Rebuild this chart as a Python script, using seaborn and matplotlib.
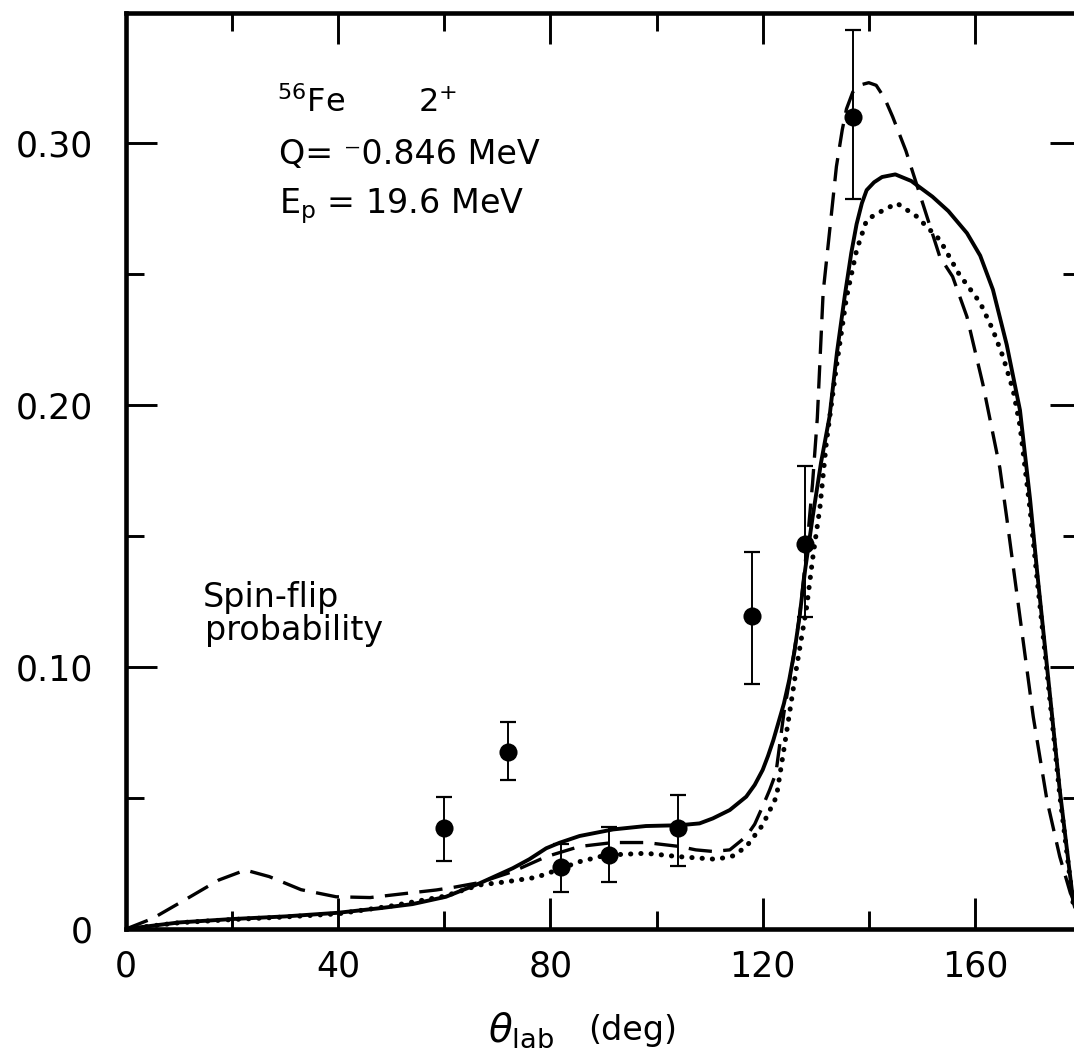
import numpy as np
import pandas as pd
import matplotlib
matplotlib.use("Agg")
import matplotlib.pyplot as plt
import seaborn as sns

# ---------------- data ----------------
solid_theta = [0, 10, 20, 30, 40, 47.7, 54, 60.3, 66.6, 72.9, 76, 79.2, 81.7, 85.5, 91.8,
               98, 104.3, 108.1, 110.6, 113.8, 116.9, 118.5, 120, 121, 122, 123, 124, 125,
               126, 127, 128, 129.4, 131, 132.6, 134, 135.5, 136.7, 137.7, 138.7, 139.6,
               141, 142.5, 145, 148, 152, 155, 158.5, 161, 163.4, 166, 168.5, 170.4,
               171.7, 173.6, 176, 178.5, 180]
solid_val = [0.0, 0.0025, 0.0038, 0.0048, 0.0062, 0.0079, 0.0095, 0.0123, 0.0174, 0.0232,
             0.0266, 0.0308, 0.0329, 0.0355, 0.0380, 0.0393, 0.0396, 0.0403, 0.0422, 0.0454,
             0.0505, 0.0550, 0.0607, 0.0660, 0.0720, 0.0790, 0.0860, 0.0950, 0.1060, 0.1200,
             0.1370, 0.1570, 0.1780, 0.1955, 0.2200, 0.2420, 0.2580, 0.2690, 0.2770, 0.2820,
             0.2850, 0.2870, 0.2880, 0.2855, 0.2795, 0.2740, 0.2656, 0.2570, 0.2440, 0.2230,
             0.1980, 0.1640, 0.1370, 0.1000, 0.0530, 0.0110, 0.0]

dash_theta = [0, 5, 11, 17.5, 22.5, 27, 33, 39.6, 46, 52, 58.5, 62, 66.6, 72.9, 79.2, 85.5,
              91.8, 98, 104.3, 107.4, 110.6, 113.8, 116.9, 118.5, 120, 121.3, 122.5, 124,
              125.5, 127, 128.3, 129.4, 130.3, 131.4, 132.6, 133.9, 135, 135.8, 137, 138.5,
              140, 141.4, 143, 144.5, 147, 150, 153.4, 155.8, 158.5, 161.5, 164.7, 166,
              168.5, 171, 173.6, 176, 178, 180]
dash_val = [0.0, 0.004, 0.011, 0.0187, 0.0225, 0.0200, 0.0150, 0.0123, 0.0120, 0.0134,
            0.0149, 0.0160, 0.0177, 0.0219, 0.0276, 0.0315, 0.0330, 0.0330, 0.0315, 0.0302,
            0.0296, 0.0302, 0.0353, 0.0400, 0.0468, 0.0530, 0.0595, 0.0824, 0.1000, 0.1200,
            0.1450, 0.1700, 0.1950, 0.2430, 0.2660, 0.2910, 0.3050, 0.3130, 0.3195, 0.3222,
            0.3230, 0.3220, 0.3170, 0.3100, 0.2970, 0.2780, 0.2565, 0.2490, 0.2337, 0.2080,
            0.1760, 0.1570, 0.1190, 0.0810, 0.0490, 0.0276, 0.0137, 0.005]

dot_theta = [0, 10, 20, 30, 40, 50, 60, 66.6, 71.6, 77.3, 80.4, 85.5, 90.5, 98, 104.3,
             111.3, 114.4, 116.9, 120, 122.6, 124.5, 126.4, 128.3, 129.4, 130.8, 132, 133.9,
             135.8, 137.7, 139.6, 141.5, 145.3, 149, 153.4, 157, 161, 163.4, 165.3, 167.2,
             168.5, 170.4, 171.7, 173.6, 176, 178.5, 180]
dot_val = [0.0, 0.0024, 0.0036, 0.0046, 0.0058, 0.0088, 0.0125, 0.0168, 0.0180, 0.0197,
           0.0219, 0.0257, 0.0282, 0.0289, 0.0276, 0.0266, 0.0279, 0.0314, 0.0397, 0.0505,
           0.0750, 0.1000, 0.1230, 0.1410, 0.1610, 0.1855, 0.2146, 0.2410, 0.2590, 0.2706,
           0.2730, 0.2770, 0.2720, 0.2630, 0.2500, 0.2390, 0.2286, 0.2184, 0.2057, 0.1920,
           0.1600, 0.1340, 0.0980, 0.0510, 0.0100, 0.0]

exp_theta = [60, 72, 82, 91, 104, 118, 128, 137]
exp_val = [0.0385, 0.0676, 0.0238, 0.0282, 0.0385, 0.1195, 0.1470, 0.3100]
exp_lo = [0.0260, 0.0569, 0.0141, 0.0180, 0.0240, 0.0935, 0.1190, 0.2786]
exp_hi = [0.0505, 0.0790, 0.0324, 0.0390, 0.0512, 0.1440, 0.1767, 0.3430]

xtick_major = [0, 40, 80, 120, 160]
xtick_minor = [20, 60, 100, 140, 180]
ytick_major = [0, 0.10, 0.20, 0.30]
ytick_labels = ["0", "0.10", "0.20", "0.30"]
ytick_minor = [0.05, 0.15, 0.25]

# ---------------- style ----------------
sns.set_style("ticks", {"axes.edgecolor": "black", "text.color": "black",
                        "xtick.color": "black", "ytick.color": "black"})
plt.rcParams["font.family"] = ["DejaVu Sans"]
plt.rcParams["mathtext.fontset"] = "dejavusans"
plt.rcParams["text.color"] = "black"

fig = plt.figure(figsize=(10.74, 10.58), dpi=100)
ax = fig.add_axes([126 / 1074, 129 / 1058, 955 / 1074, 916 / 1058])

df_s = pd.DataFrame({"theta": solid_theta, "val": solid_val})
df_d = pd.DataFrame({"theta": dash_theta, "val": dash_val})
df_o = pd.DataFrame({"theta": dot_theta, "val": dot_val})
df_e = pd.DataFrame({"theta": exp_theta, "val": exp_val})

sns.lineplot(data=df_s, x="theta", y="val", ax=ax, color="black", lw=2.8,
             estimator=None, sort=False)
sns.lineplot(data=df_d, x="theta", y="val", ax=ax, color="black", lw=2.4,
             estimator=None, sort=False, linestyle=(0, (7.0, 3.4)))
sns.lineplot(data=df_o, x="theta", y="val", ax=ax, color="black", lw=3.6,
             estimator=None, sort=False, linestyle=(0, (0.05, 2.0)),
             dash_capstyle="round")

yerr = [np.array(exp_val) - np.array(exp_lo), np.array(exp_hi) - np.array(exp_val)]
ax.errorbar(exp_theta, exp_val, yerr=yerr, fmt="none", ecolor="black",
            elinewidth=1.4, capsize=5.5, capthick=1.6, zorder=4)
sns.scatterplot(data=df_e, x="theta", y="val", ax=ax, color="black", s=170,
                edgecolor="black", linewidth=0, zorder=5)

ax.set_xlim(0, 180)
ax.set_ylim(0, 0.3496)
ax.set_xticks(xtick_major)
ax.set_xticks(xtick_minor, minor=True)
ax.set_xticklabels([str(v) for v in xtick_major])
ax.set_yticks(ytick_major)
ax.set_yticks(ytick_minor, minor=True)
ax.set_yticklabels(ytick_labels)
ax.set_xlabel("")
ax.set_ylabel("")

for s in ax.spines.values():
    s.set_linewidth(3.3)
    s.set_color("black")
    s.set_visible(True)
ax.tick_params(which="both", direction="in", top=True, right=True, width=2.1,
               labelsize=25, colors="black")
ax.tick_params(which="major", length=22)
ax.tick_params(which="minor", length=13)
ax.tick_params(axis="x", which="major", pad=15)
ax.tick_params(axis="y", which="major", pad=24)

# annotations
fig.text(277 / 1074, 1 - 112 / 1058, r"$^{56}$Fe", fontsize=23, va="baseline", ha="left")
fig.text(418 / 1074, 1 - 112 / 1058, r"2$^{+}$", fontsize=23, va="baseline", ha="left")
fig.text(279 / 1074, 1 - 164 / 1058, "Q= \u207b0.846 MeV", fontsize=24, va="baseline", ha="left")
fig.text(279 / 1074, 1 - 213 / 1058, r"E$_{\mathregular{p}}$ = 19.6 MeV", fontsize=24,
         va="baseline", ha="left")
fig.text(203 / 1074, 1 - 607 / 1058, "Spin-flip", fontsize=24, va="baseline", ha="left")
fig.text(205 / 1074, 1 - 640 / 1058, "probability", fontsize=24, va="baseline", ha="left")
fig.text(488 / 1074, 1 - 1042 / 1058, r"$\theta_{\mathregular{lab}}$", fontsize=28,
         va="baseline", ha="left")
fig.text(588 / 1074, 1 - 1040 / 1058, "(deg)", fontsize=24, va="baseline", ha="left")

fig.savefig("out.png", dpi=100)
